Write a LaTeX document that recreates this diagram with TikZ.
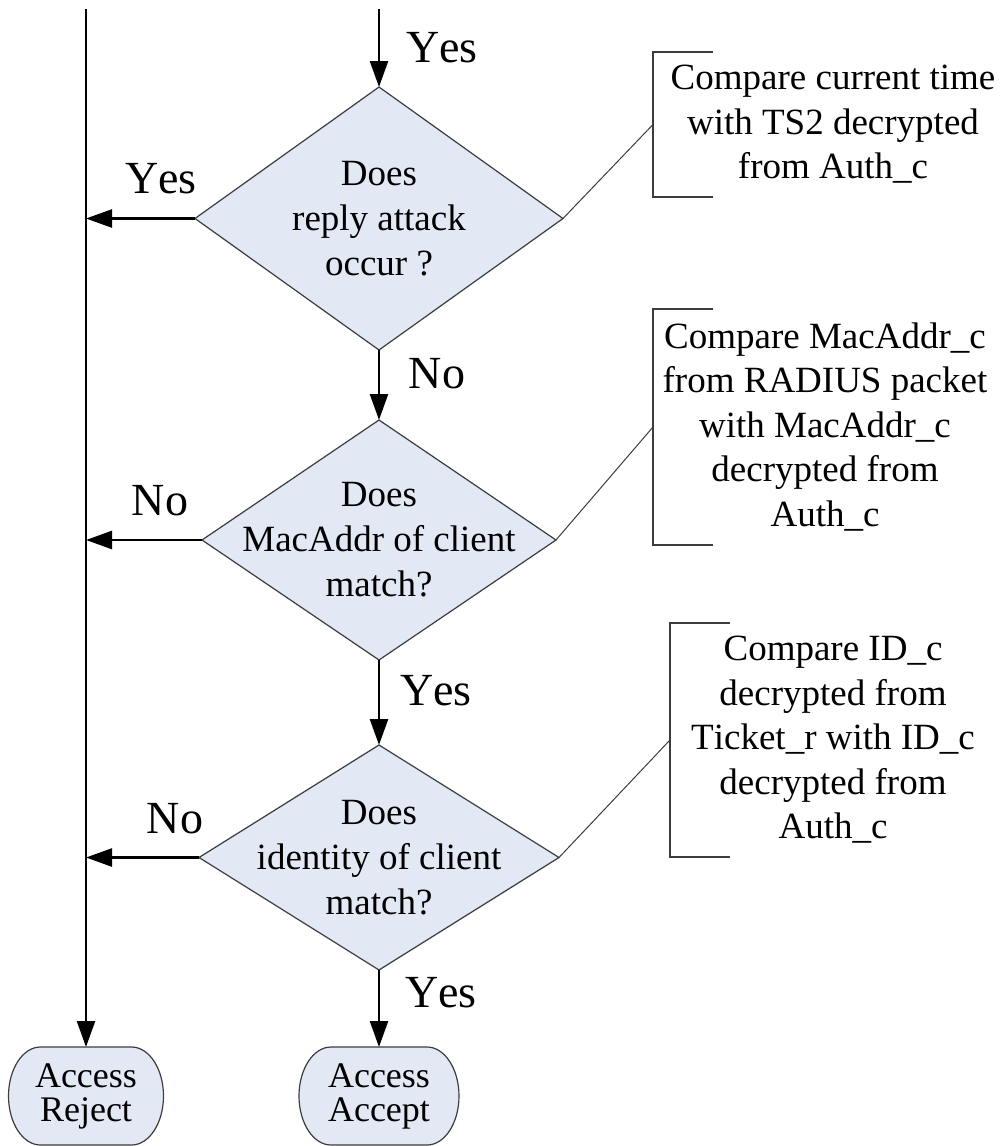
\documentclass[tikz,border=0pt]{standalone}
\usepackage{fontspec}
\setmainfont{Liberation Serif}[Kerning=Off]
\usetikzlibrary{arrows.meta,shapes.geometric,calc}
\pgfdeclarelayer{bg}
\pgfsetlayers{bg,main}
\definecolor{dfill}{RGB}{226,233,244}
\definecolor{dline}{RGB}{60,60,60}
\begin{document}
\begin{tikzpicture}[x=1pt,y=1pt,
  dia/.style={diamond, draw=dline, line width=1.2pt, fill=dfill, inner sep=0pt, outer sep=0pt},
  dtext/.style={align=center, font=\fontsize{37}{45}\selectfont, inner sep=0pt},
  lab/.style={font=\fontsize{46}{50}\selectfont, inner sep=0pt, anchor=base},
  flow/.style={line width=2.5pt, -{Triangle[length=26pt,width=18pt]}},
  ann/.style={align=center, font=\fontsize{37}{44.5}\selectfont, inner sep=0pt, outer sep=0pt, anchor=west},
  brk/.style={draw=dline, line width=2pt},
  lead/.style={draw=dline, line width=1pt},
  term/.style={align=center, font=\fontsize{36}{34}\selectfont, inner sep=0pt, outer sep=0pt, minimum height=98pt},
  termshape/.style={draw=dline, line width=1.2pt, fill=dfill},
]
\useasboundingbox (0,0) rectangle (1003,-1146);

% decisions
\node[dia, minimum width=368pt, minimum height=263pt] (d1) at (379,-218.5) {};
\node[dtext] (t1) at (d1.center) {Does\\reply attack\\occur ?};
\node[dia, minimum width=354pt, minimum height=240pt] (d2) at (379,-540) {};
\node[dtext] (t2) at (d2.center) {Does\\MacAddr of client\\match?};
\node[dia, minimum width=360pt, minimum height=225pt] (d3) at (379,-857.5) {};
\node[dtext] (t3) at (d3.center) {Does\\identity of client\\match?};

% terminals
\node[term, minimum width=155pt] (rej) at (86,-1096) {Access\\Reject};
\node[term, minimum width=160pt] (acc) at (379,-1096) {Access\\Accept};
\begin{pgfonlayer}{bg}
\path[termshape] ([xshift=32pt]rej.north west) -- ([xshift=-32pt]rej.north east)
  arc[start angle=90,end angle=-90,x radius=32pt,y radius=49pt]
  -- ([xshift=32pt]rej.south west)
  arc[start angle=270,end angle=90,x radius=32pt,y radius=49pt] -- cycle;
\path[termshape] ([xshift=32pt]acc.north west) -- ([xshift=-32pt]acc.north east)
  arc[start angle=90,end angle=-90,x radius=32pt,y radius=49pt]
  -- ([xshift=32pt]acc.south west)
  arc[start angle=270,end angle=90,x radius=32pt,y radius=49pt] -- cycle;
\end{pgfonlayer}

% annotations
\node[ann, minimum width=360pt, minimum height=145pt] (a1) at (653,-124.5)
  {Compare current time\\with TS2 decrypted\\from Auth\_c};
\node[ann, minimum width=344pt, minimum height=236pt] (a2) at (653,-427)
  {Compare MacAddr\_c\\from RADIUS packet\\with MacAddr\_c\\decrypted from\\Auth\_c};
\node[ann, minimum width=326pt, minimum height=234pt] (a3) at (670,-740)
  {Compare ID\_c\\decrypted from\\Ticket\_r with ID\_c\\decrypted from\\Auth\_c};
\foreach \a in {a1,a2,a3}{
  \draw[brk] ([xshift=60pt]\a.north west) -- (\a.north west) -- (\a.south west) -- ([xshift=60pt]\a.south west);
}
\draw[lead] (d1.east) -- (a1.west);
\draw[lead] (d2.east) -- (a2.west);
\draw[lead] (d3.east) -- (a3.west);

% flow
\coordinate (ctop) at (379,-9);
\coordinate (ltop) at (86,-9);
\coordinate (j1) at (86,-218.5);
\coordinate (j2) at (86,-540);
\coordinate (j3) at (86,-857.5);
\draw[flow] (ctop) -- (d1.north);
\draw[flow] (d1.south) -- (d2.north);
\draw[flow] (d2.south) -- (d3.north);
\draw[flow] (d3.south) -- (acc.north);
\draw[flow] (ltop) -- (rej.north);
\draw[flow] (d1.west) -- (j1);
\draw[flow] (d2.west) -- (j2);
\draw[flow] (d3.west) -- (j3);

% labels
\node[lab] (y0) at (442,-62) {Yes};
\node[lab] (y1) at (161,-193) {Yes};
\node[lab] (n1) at (437,-388) {No};
\node[lab] (n2) at (160,-515) {No};
\node[lab] (y2) at (436,-705) {Yes};
\node[lab] (n3) at (175,-833) {No};
\node[lab] (y3) at (441,-1007) {Yes};
\end{tikzpicture}
\end{document}
